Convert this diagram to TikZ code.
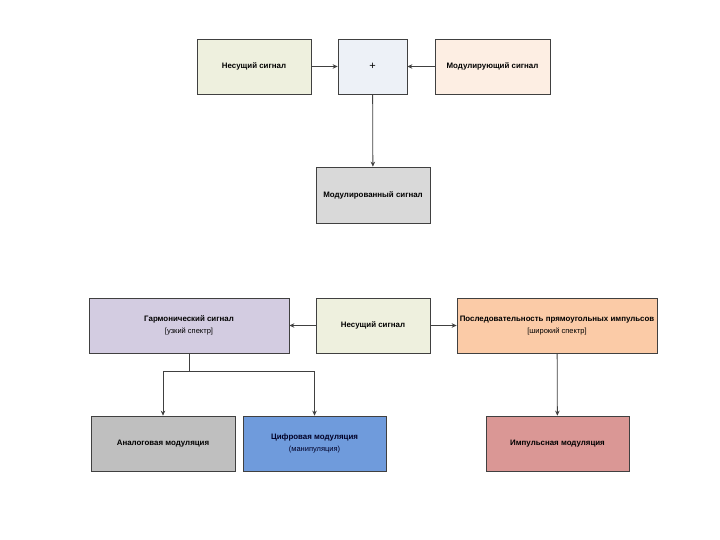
\documentclass[tikz,border=0pt]{standalone}
\usepackage{fontspec}
\setmainfont{Liberation Sans}
\usetikzlibrary{arrows.meta}
\definecolor{cCar}{HTML}{EEF0DE}
\definecolor{cPlus}{HTML}{EDF1F7}
\definecolor{cMod}{HTML}{FDEEE3}
\definecolor{cRes}{HTML}{D9D9D9}
\definecolor{cHarm}{HTML}{D3CCE1}
\definecolor{cSeq}{HTML}{FBCBA7}
\definecolor{cAn}{HTML}{BFBFBF}
\definecolor{cDig}{HTML}{6F9BDC}
\definecolor{cImp}{HTML}{DA9795}
\definecolor{cEdge}{HTML}{404040}
\newcommand{\subtxt}[1]{{\fontsize{7.5}{9}\selectfont\mdseries #1}}
\begin{document}
\begin{tikzpicture}[x=1pt,y=-1pt,
  box/.style={draw=cEdge,line width=0.7pt,minimum width=#1,inner sep=1pt,align=center,
    font=\fontsize{7.9}{12.5}\selectfont\bfseries},
  conn/.style={draw=cEdge,line width=0.8pt,-{Stealth[length=5pt,width=4.5pt]}}]
\useasboundingbox (0,0) rectangle (720,540);
\node[box=114pt,minimum height=55pt,fill=cCar] (n1) at (254,66.5) {Несущий сигнал};
\node[box=69pt,minimum height=55pt,fill=cPlus,font=\fontsize{11}{12}\selectfont] (plus) at (372.5,66.5) {+};
\node[box=115pt,minimum height=55pt,fill=cMod] (mod) at (492.5,66.5) {Модулирующий сигнал};
\node[box=114pt,minimum height=56pt,fill=cRes] (res) at (373,195) {Модулированный сигнал};
\node[box=200pt,minimum height=55pt,fill=cHarm] (harm) at (189,325.5) {Гармонический сигнал\\\subtxt{[узкий спектр]}};
\node[box=114pt,minimum height=55pt,fill=cCar] (car) at (373,325.5) {Несущий сигнал};
\node[box=200pt,minimum height=55pt,fill=cSeq] (seq) at (557,325.5) {Последовательность прямоугольных импульсов\\\subtxt{[широкий спектр]}};
\node[box=144pt,minimum height=55pt,fill=cAn] (an) at (163,443.5) {Аналоговая модуляция};
\node[box=143pt,minimum height=55pt,fill=cDig,text=black!85!blue] (dig) at (314.5,443.5) {Цифровая модуляция\\\subtxt{(манипуляция)}};
\node[box=143pt,minimum height=55pt,fill=cImp] (imp) at (557.5,443.5) {Импульсная модуляция};
\coordinate (j) at (189,371);
\draw[conn] (n1) -- (plus);
\draw[conn] (mod) -- (plus);
\draw[conn] (plus) -- (res);
\draw[conn] (car) -- (harm);
\draw[conn] (car) -- (seq);
\draw[draw=cEdge,line width=0.8pt] (harm.south) -- (j);
\draw[conn] (j) -| (an.north);
\draw[conn] (j) -| (dig.north);
\draw[conn] (seq) -- (imp);
\end{tikzpicture}
\end{document}
